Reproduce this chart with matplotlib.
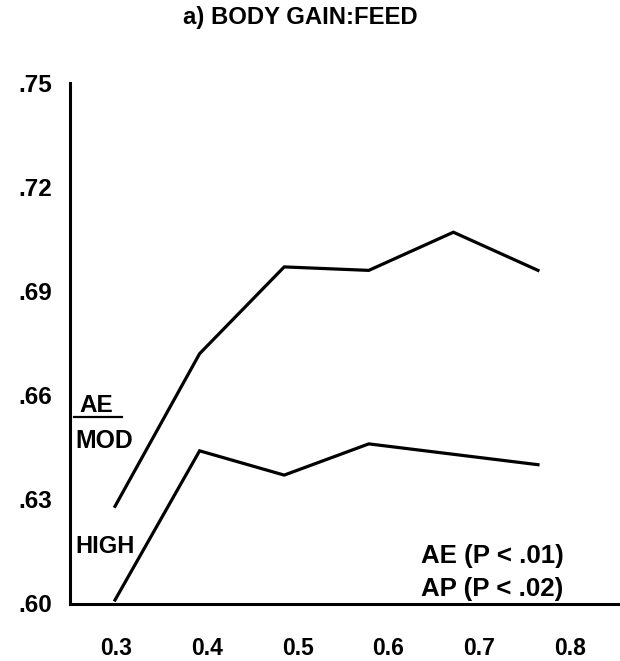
import matplotlib
matplotlib.use("Agg")
import matplotlib.pyplot as plt
from matplotlib.lines import Line2D

plt.rcParams['font.family'] = ['Liberation Sans', 'DejaVu Sans']
plt.rcParams['font.weight'] = 'bold'

# Data
ap_levels = [0.3, 0.4, 0.5, 0.6, 0.7, 0.8]
mod_ae = [0.628, 0.672, 0.697, 0.696, 0.707, 0.696]
high_ae = [0.601, 0.644, 0.637, 0.646, 0.643, 0.640]
y_ticks = [0.60, 0.63, 0.66, 0.69, 0.72, 0.75]
y_tick_labels = ['.60', '.63', '.66', '.69', '.72', '.75']
x_tick_labels = ['0.3', '0.4', '0.5', '0.6', '0.7', '0.8']
title = 'a) BODY GAIN:FEED'

fig = plt.figure(figsize=(6.2, 6.61), dpi=100)
ax = fig.add_axes([70/620, (661-603.5)/661, 548/620, 520.5/661])

ax.plot(ap_levels, mod_ae, color='black', lw=2.3, solid_joinstyle='miter')
ax.plot(ap_levels, high_ae, color='black', lw=2.3, solid_joinstyle='miter')

ax.set_xlim(0.2468, 0.8946)
ax.set_ylim(0.60, 0.75)

for s in ['top', 'right']:
    ax.spines[s].set_visible(False)
for s in ['left', 'bottom']:
    ax.spines[s].set_linewidth(2.2)

ax.set_yticks(y_ticks, y_tick_labels, fontsize=17.5, fontweight='bold')
ax.tick_params(axis='y', length=0, pad=13)

# tick labels are spaced slightly wider than the plotted points in the original
def label_pos(v):
    return 0.3 + ((v - 0.3) * 908 + 1.0) / 846
ax.set_xticks([label_pos(v) for v in ap_levels], x_tick_labels, fontsize=16.5, fontweight='bold')
ax.tick_params(axis='x', length=0, pad=24)

ax.text(0.018, 0.381, 'AE', transform=ax.transAxes, fontsize=17.5, fontweight='bold', va='center', ha='left')
ax.add_line(Line2D([0.0073, 0.0949], [0.358, 0.358], transform=ax.transAxes, color='black', lw=1.6))
ax.text(0.0091, 0.312, 'MOD', transform=ax.transAxes, fontsize=17.8, fontweight='bold', va='center', ha='left')
ax.text(0.0091, 0.109, 'HIGH', transform=ax.transAxes, fontsize=17, fontweight='bold', va='center', ha='left')
ax.text(0.6405, 0.0922, 'AE (P < .01)', transform=ax.transAxes, fontsize=18.6, fontweight='bold', va='center', ha='left')
ax.text(0.6405, 0.0288, 'AP (P < .02)', transform=ax.transAxes, fontsize=18.6, fontweight='bold', va='center', ha='left')

fig.text(300/620, 1 - 17.5/661, title, fontsize=17.2, fontweight='bold', ha='center', va='center')

fig.savefig('out.png', dpi=100)
